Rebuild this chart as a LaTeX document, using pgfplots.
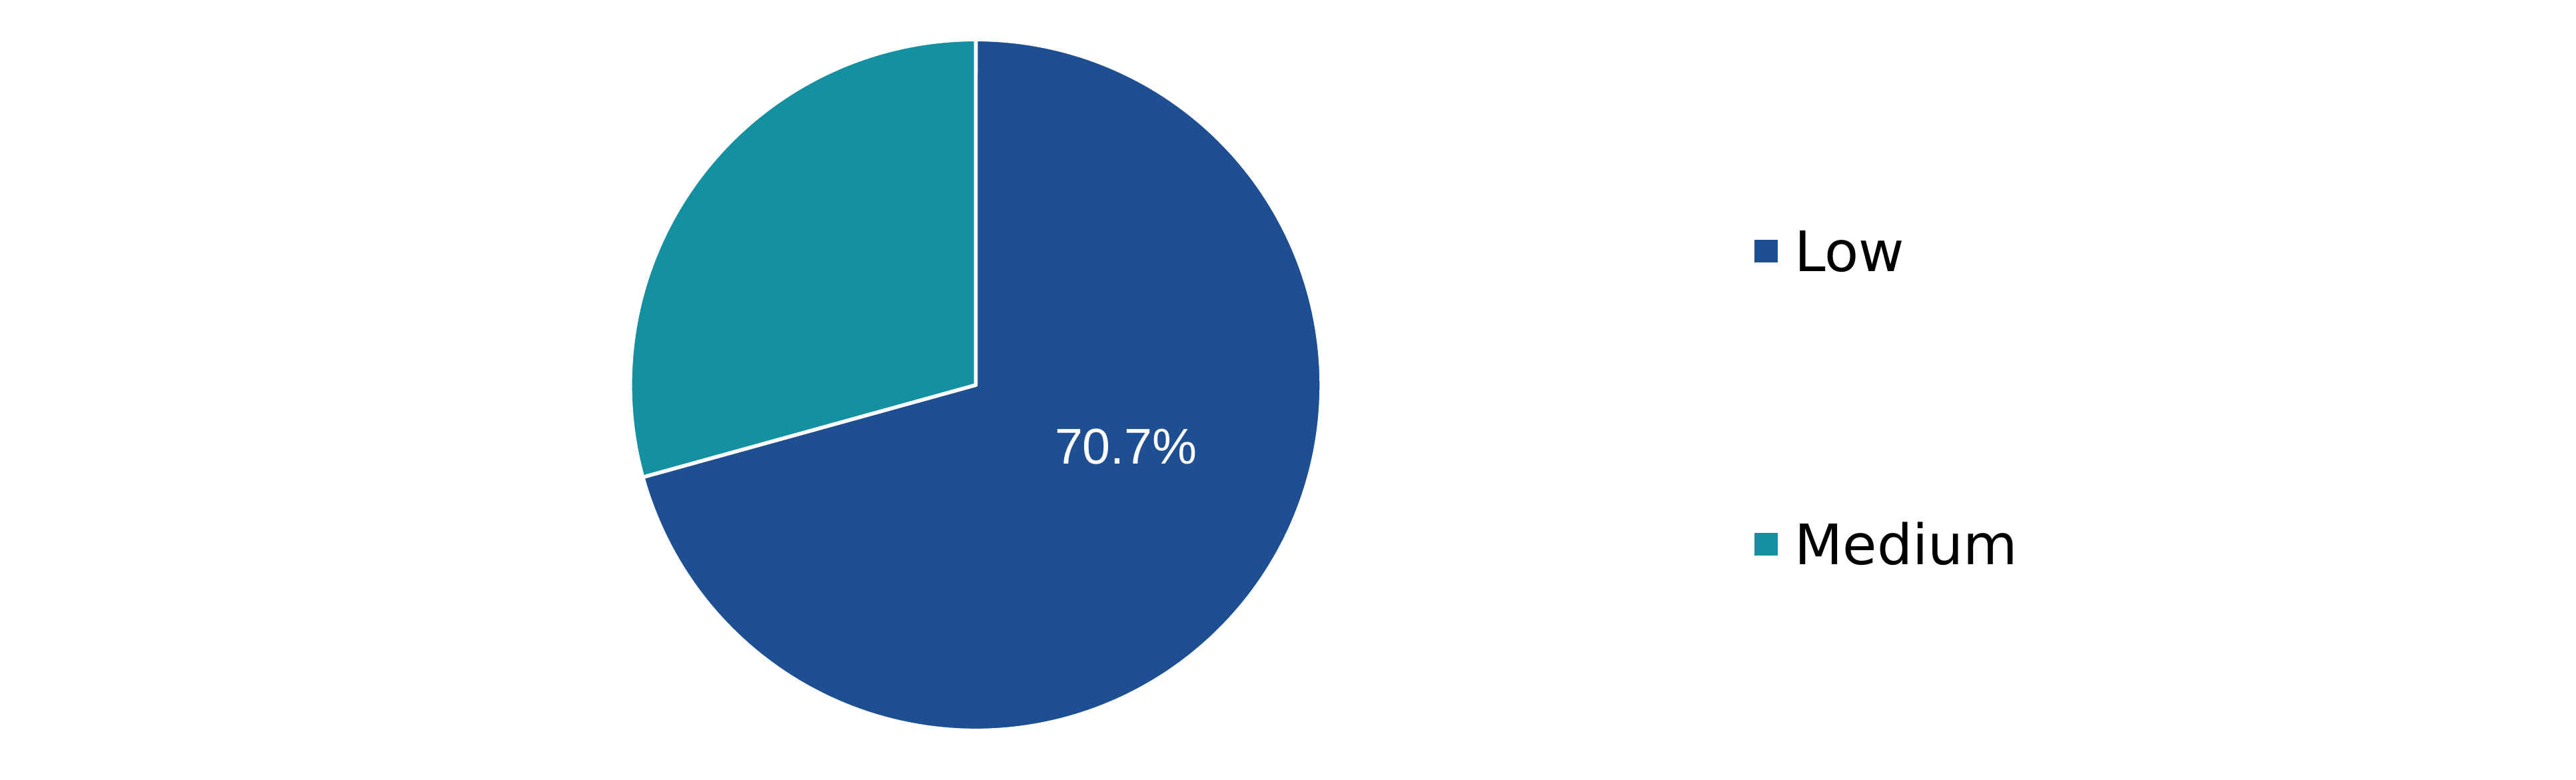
\documentclass[border=0pt]{standalone}
\usepackage{fontspec}
\setmainfont{DejaVu Sans}
\newfontfamily\labelfont{Liberation Sans}
\usepackage{pgfplots}
\usepackage{pgfplotstable}
\pgfplotsset{compat=1.18}
\pgfplotsset{legend image code/.code={\fill[#1] (0pt,-1.9pt) rectangle (4pt,2.1pt);}}

\definecolor{lowblue}{RGB}{31,79,147}
\definecolor{medteal}{RGB}{19,145,160}

% share of each risk level, percent
\pgfplotstableread{
label value
Low 70.7
Medium 29.3
}\piedata

\pgfplotstablegetelem{0}{value}\of\piedata \let\vlow\pgfplotsretval
\pgfplotstablegetelem{1}{value}\of\piedata \let\vmed\pgfplotsretval
% slices start at 12 o'clock, clockwise
\pgfmathsetmacro\lowstart{90-3.6*\vlow}
\pgfmathsetmacro\medend{90+3.6*\vmed}

\begin{document}
\begin{tikzpicture}
\begin{axis}[
    scale only axis,
    width=386.6pt, height=117.1pt,
    xmin=-2.838, xmax=4.654,
    ymin=-1.149, ymax=1.120,
    hide axis,
    clip=false,
    legend style={
        draw=none, fill=none, inner sep=0pt, outer sep=0pt,
        at={(axis cs:2.2545,0.4457)}, anchor=north west,
        row sep=38pt, column sep=2.0pt,
        nodes={inner sep=0pt, text height=6pt, text depth=0pt, font=\fontsize{8.37}{10}\selectfont},
    },
    legend cell align=left,
]
\path (rel axis cs:0,0) rectangle (rel axis cs:1,1);

\addplot[fill=lowblue, draw=white, line width=0.55pt, line join=round,
    domain=\lowstart:90, samples=200]
    ({1.005*cos(x)},{1.005*sin(x)}) -- (axis cs:0,0) -- cycle;
\addlegendentry{Low}

\addplot[fill=medteal, draw=white, line width=0.55pt, line join=round,
    domain=90:\medend, samples=120]
    ({1.005*cos(x)},{1.005*sin(x)}) -- (axis cs:0,0) -- cycle;
\addlegendentry{Medium}

\node[anchor=base, text=white, inner sep=0pt, font=\labelfont\fontsize{7.54}{9}\selectfont]
    at (axis cs:0.437,-0.2287) {\vlow\%};
\end{axis}
\end{tikzpicture}
\end{document}
